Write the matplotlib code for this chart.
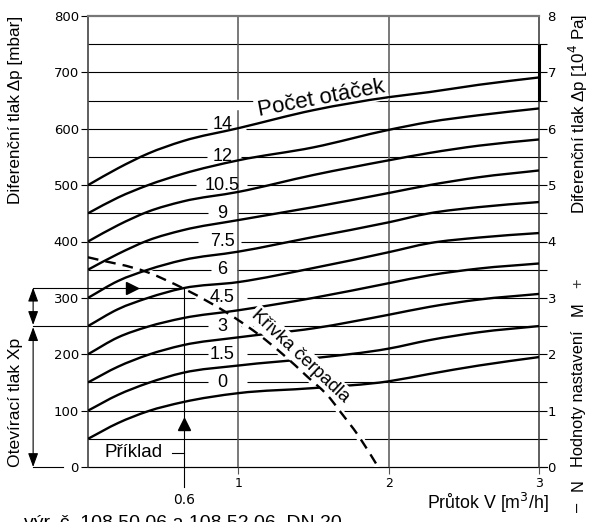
import numpy as np
import matplotlib
matplotlib.use('Agg')
import matplotlib.pyplot as plt
from matplotlib.path import Path
from matplotlib.patches import PathPatch

plt.rcParams['font.family'] = ['Liberation Sans', 'DejaVu Sans']

# ---------------- data ----------------
flow_pts = [0, 0.2, 0.4, 0.63, 1.0, 1.5, 2.0, 2.27, 2.6, 3.0]   # m3/h
dp_0    = [50, 78, 99, 115, 131, 140, 152, 165, 180, 195]
dp_1_5  = [100, 128, 149, 167, 180, 193, 210, 225, 239, 250]
dp_3    = [150, 178, 199, 216, 230, 246, 270, 284, 297, 307]
dp_4_5  = [200, 230, 249, 264, 278, 300, 326, 340, 352, 361]
dp_6    = [250, 280, 300, 317, 328, 353, 381, 397, 407, 415]
dp_7_5  = [300, 330, 350, 367, 382, 408, 434, 450, 461, 470]
dp_9    = [350, 378, 402, 420, 438, 461, 486, 500, 514, 526]
dp_10_5 = [400, 429, 453, 471, 488, 518, 544, 557, 570, 581]
dp_12   = [450, 478, 500, 520, 544, 567, 598, 612, 624, 636]
dp_14   = [500, 530, 556, 578, 601, 633, 656, 665, 678, 691]
turn_labels = ['0', '1.5', '3', '4.5', '6', '7.5', '9', '10.5', '12', '14']
turn_series = [dp_0, dp_1_5, dp_3, dp_4_5, dp_6, dp_7_5, dp_9, dp_10_5, dp_12, dp_14]
label_levels = [150, 200, 250, 300, 350, 400, 450, 500, 550, 600]

pump_flow = [0, 0.4, 0.64, 0.98, 1.14, 1.30, 1.46, 1.61, 1.67, 1.80, 1.93]
pump_dp   = [372, 345, 316, 264, 234, 199, 160, 122, 101, 55, 0]

example_flow = 0.64
example_flow_label = '0.6'
example_dp = 318
xp_open = 250

left_ticks = [0, 100, 200, 300, 400, 500, 600, 700, 800]
right_ticks = [0, 1, 2, 3, 4, 5, 6, 7, 8]
x_ticks = [1, 2, 3]

# gaps in the horizontal grid lines (where the turn labels sit)
grid_gaps = {600: (0.79, 1.05), 550: (0.79, 1.02), 500: (0.72, 1.06),
             450: (0.80, 0.99), 400: (0.73, 1.02), 350: (0.82, 0.99),
             300: (0.73, 1.06), 250: (0.80, 1.02), 200: (0.80, 1.06),
             150: (0.80, 1.06)}

# ---------------- figure ----------------
W, H = 589, 522
fig = plt.figure(figsize=(W / 100, H / 100), dpi=100)
ax = fig.add_axes([88 / W, 1 - 467 / H, 451 / W, 451 / H])
ax.set_xlim(0, 3)
ax.set_ylim(0, 800)

XR = 3.053   # right extension of horizontal lines
XL = -0.365  # left position of the Xp dimension line


def smooth_path(xs, ys):
    xs = np.asarray(xs, float)
    ys = np.asarray(ys, float)
    h = np.diff(xs)
    d = np.diff(ys) / h
    m = np.empty_like(xs)
    m[0] = d[0]
    m[-1] = d[-1]
    for i in range(1, len(xs) - 1):
        m[i] = (d[i - 1] * h[i] + d[i] * h[i - 1]) / (h[i - 1] + h[i])
    verts = [(xs[0], ys[0])]
    codes = [Path.MOVETO]
    for i in range(len(xs) - 1):
        verts += [(xs[i] + h[i] / 3, ys[i] + m[i] * h[i] / 3),
                  (xs[i + 1] - h[i] / 3, ys[i + 1] - m[i + 1] * h[i] / 3),
                  (xs[i + 1], ys[i + 1])]
        codes += [Path.CURVE4] * 3
    return Path(verts, codes)


# horizontal grid lines
for lev in range(0, 800, 50):
    if lev in grid_gaps:
        a, b = grid_gaps[lev]
        segs = [(0, a), (b, XR)]
    else:
        segs = [(0, XR)]
    for s0, s1 in segs:
        ax.plot([s0, s1], [lev, lev], color='black', lw=0.8, zorder=1,
                clip_on=False, solid_capstyle='butt')

# vertical grid lines
ax.plot([1, 1], [0, 632], color='#555555', lw=1.1, zorder=2.5)
ax.plot([1, 1], [652, 800], color='#555555', lw=1.1, zorder=2.5)
ax.plot([2, 2], [0, 800], color='#555555', lw=1.1, zorder=2.5)

# spines
ax.spines['bottom'].set_visible(False)
ax.spines['top'].set_color('#777777')
ax.spines['top'].set_linewidth(1.6)
ax.spines['left'].set_color('#333333')
ax.spines['left'].set_linewidth(1.1)
ax.spines['right'].set_color('#333333')
ax.spines['right'].set_linewidth(1.1)

# thick mark on right spine
ax.plot([3, 3], [650, 750], color='black', lw=2.2, zorder=3, clip_on=False,
        solid_capstyle='butt')

# pump curve (white casing + dashed)
pp = smooth_path(pump_flow, pump_dp)
ax.add_patch(PathPatch(pp, fill=False, edgecolor='white', lw=5, zorder=1.5))
ax.add_patch(PathPatch(pp, fill=False, edgecolor='black', lw=1.7, zorder=5,
                       linestyle=(0, (4.5, 3.0)), capstyle='butt'))

# turn curves
for ys in turn_series:
    ax.add_patch(PathPatch(smooth_path(flow_pts, ys), fill=False,
                           edgecolor='black', lw=1.7, zorder=3))

# turn labels
for lab, lev in zip(turn_labels, label_levels):
    yy = lev + (8 if lab == '14' else 0)
    ax.text(0.895, yy, lab, ha='center', va='center', fontsize=13, zorder=4)

ax.text(1.55, 653, 'Počet otáček', rotation=10.7, rotation_mode='anchor',
        ha='center', va='center', fontsize=16, zorder=2.7,
        bbox=dict(facecolor='white', edgecolor='none', pad=2))

ax.text(1.415, 197, 'Křivka čerpadla', rotation=-43, rotation_mode='anchor',
        ha='center', va='center', fontsize=13.3, zorder=4,
        bbox=dict(facecolor='white', edgecolor='none', pad=1.5))

# example
ax.plot([XL, example_flow], [example_dp, example_dp], color='black', lw=0.8,
        zorder=3, clip_on=False)
ax.plot([example_flow, example_flow], [-35, example_dp], color='black', lw=0.8,
        zorder=3, clip_on=False)
ax.plot([0.295], [example_dp], marker='>', markersize=9, color='black',
        zorder=4, clip_on=False)
ax.plot([example_flow], [76], marker='^', markersize=9, color='black',
        zorder=4, clip_on=False)
ax.text(example_flow, -59, example_flow_label, ha='center', va='center',
        fontsize=10, family='DejaVu Sans')
ax.text(0.113, 25, 'Příklad', ha='left', va='center', fontsize=13.5)
ax.plot([0.56, example_flow], [25, 25], color='black', lw=0.8, zorder=3)

# Xp dimension
ax.plot([XL, 0], [xp_open, xp_open], color='black', lw=0.8, clip_on=False)
ax.plot([XL, -0.166], [0, 0], color='black', lw=0.8, clip_on=False)
ax.plot([0, XR], [0, 0], color='black', lw=0.8, clip_on=False, zorder=1)
aprops = dict(arrowstyle='<|-|>,head_length=0.6,head_width=0.22',
              color='black', lw=0.8, shrinkA=0, shrinkB=0, mutation_scale=14)
ax.annotate('', xy=(XL, example_dp), xytext=(XL, xp_open + 2),
            arrowprops=aprops, annotation_clip=False)
ax.annotate('', xy=(XL, xp_open - 2), xytext=(XL, 0),
            arrowprops=aprops, annotation_clip=False)

# ticks
ax.set_yticks(left_ticks)
ax.set_yticklabels([str(v) for v in left_ticks], family='DejaVu Sans',
                   fontsize=9.5)
ax.tick_params(axis='y', length=5, width=0.8, pad=1.5, direction='out')
ax.set_xticks(x_ticks)
ax.set_xticklabels([str(v) for v in x_ticks], family='DejaVu Sans',
                   fontsize=9)
ax.tick_params(axis='x', length=5, width=0.8, pad=2, color='#555555')

ax2 = ax.twinx()
ax2.set_ylim(0, 8)
ax2.set_yticks(right_ticks)
ax2.set_yticklabels([str(v) for v in right_ticks], family='DejaVu Sans',
                    fontsize=9.5)
ax2.tick_params(axis='y', length=0, pad=6.2)
for s in ax2.spines.values():
    s.set_visible(False)

# axis titles
fig.text(16 / W, 1 - 110 / H, 'Diferenční tlak Δp [mbar]', rotation=90,
         ha='center', va='center', fontsize=12.3)
fig.text(16 / W, 1 - 402 / H, 'Otevírací tlak Xp', rotation=90,
         ha='center', va='center', fontsize=12.6)
fig.text(578 / W, 1 - 114 / H, 'Diferenční tlak Δp [10$^4$ Pa]', rotation=90,
         ha='center', va='center', fontsize=12.2)
fig.text(488 / W, 1 - 503 / H, 'Průtok V [m$^3$/h]', ha='center',
         va='center', fontsize=12.8)
fig.text(578 / W, 1 - 283 / H, '+', rotation=90, ha='center', va='center',
         fontsize=11.8, color='#333333')
fig.text(578 / W, 1 - 309 / H, 'M', rotation=90, ha='center', va='center',
         fontsize=11.8)
fig.text(578 / W, 1 - 399 / H, 'Hodnoty nastavení', rotation=90,
         ha='center', va='center', fontsize=11.8)
fig.text(578 / W, 1 - 485 / H, 'N', rotation=90, ha='center', va='center',
         fontsize=11.8)
fig.text(578 / W, 1 - 507 / H, '–', rotation=90, ha='center', va='center',
         fontsize=11.8)

# footnote, cut by the lower edge as in the original
fig.text(24 / W, 1 - 528 / H, 'výr. č. 108 50 06 a 108 52 06, DN 20',
         ha='left', va='baseline', fontsize=14)

fig.savefig('out.png', dpi=100)
